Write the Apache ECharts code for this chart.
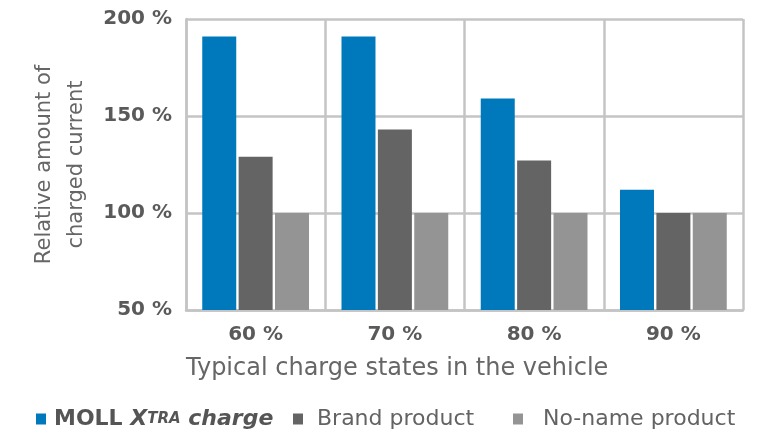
<!DOCTYPE html>
<html>
<head>
<meta charset="utf-8">
<script src="https://cdn.jsdelivr.net/npm/echarts@6/dist/echarts.min.js"></script>
<style>
  html, body { margin: 0; padding: 0; background: #fff; }
  #main { width: 763px; height: 432px; }
</style>
</head>
<body>
<div id="main"></div>
<script>
// categories and values
var categories = ['60 %', '70 %', '80 %', '90 %'];
var seriesNames = ['MOLL XTRA charge', 'Brand product', 'No-name product'];
var mollValues = [191, 191, 159, 112];
var brandValues = [129, 143, 127, 100];
var nonameValues = [100, 100, 100, 100];
var yTicks = [50, 100, 150, 200];

var myChart = echarts.init(document.getElementById('main'));

var gridColor = '#c4c4c4';
var font = '"DejaVu Sans", Verdana, sans-serif';
var barColors = ['#0079bc', '#646464', '#949494'];

// legend: one component per item so each sits where it does in the picture
var legendLefts = [36, 293, 513];
var legendPads = [3, 9, 15];
var legends = seriesNames.map(function (name, i) {
    return {
        left: legendLefts[i],
        top: 408,
        padding: 0,
        itemWidth: 10,
        itemHeight: 11,
        icon: 'rect',
        data: [name],
        textStyle: {
            fontFamily: font,
            rich: {
                b: { fontSize: 22, fontWeight: 'bold', color: '#555', lineHeight: 22, fontFamily: font, padding: [0, 0, 0, legendPads[i]] },
                x: { fontSize: 22, fontWeight: 'bold', fontStyle: 'italic', color: '#555', lineHeight: 22, fontFamily: font },
                t: { fontSize: 15, fontWeight: 'bold', fontStyle: 'italic', color: '#555', lineHeight: 22, fontFamily: font },
                n: { fontSize: 22, color: '#636363', lineHeight: 22, fontFamily: font, padding: [0, 0, 0, legendPads[i]] }
            }
        },
        formatter: function (n) {
            if (n === 'MOLL XTRA charge') {
                return '{b|MOLL }{x|X}{t|TRA}{x| charge}';
            }
            return '{n|' + n + '}';
        }
    };
});

var option = {
    animation: false,
    textStyle: { fontFamily: font },
    title: {
        text: 'Typical charge states in the vehicle',
        left: 186,
        top: 357,
        padding: 0,
        textStyle: { fontSize: 24, fontWeight: 'normal', color: '#666', fontFamily: font }
    },
    grid: { left: 186, right: 20, top: 19, bottom: 122 },
    legend: legends,
    xAxis: {
        type: 'category',
        data: categories,
        axisLine: { show: true, lineStyle: { color: gridColor, width: 2.5 } },
        axisTick: { show: false },
        axisLabel: { fontSize: 20, fontWeight: 'bold', color: '#5a5a5a', margin: 15, fontFamily: font },
        splitLine: { show: true, lineStyle: { color: gridColor, width: 2.5 } }
    },
    yAxis: {
        type: 'value',
        min: 50,
        max: 200,
        interval: 50,
        name: 'Relative amount of\ncharged current',
        nameLocation: 'middle',
        nameGap: 89,
        nameTextStyle: { fontSize: 21, color: '#666', lineHeight: 32, fontFamily: font },
        axisLine: { show: true, lineStyle: { color: gridColor, width: 2.5 } },
        axisTick: { show: false },
        axisLabel: {
            fontSize: 20, fontWeight: 'bold', color: '#5a5a5a', margin: 14, fontFamily: font,
            formatter: function (v) { return yTicks.indexOf(v) >= 0 ? v + ' %' : ''; }
        },
        splitLine: { show: true, lineStyle: { color: gridColor, width: 2.5 } }
    },
    series: [
        { name: seriesNames[0], type: 'bar', data: mollValues, barWidth: 34, barGap: '7%', itemStyle: { color: barColors[0] } },
        { name: seriesNames[1], type: 'bar', data: brandValues, barWidth: 34, barGap: '7%', itemStyle: { color: barColors[1] } },
        { name: seriesNames[2], type: 'bar', data: nonameValues, barWidth: 34, barGap: '7%', itemStyle: { color: barColors[2] } }
    ]
};

myChart.setOption(option);
</script>
</body>
</html>
